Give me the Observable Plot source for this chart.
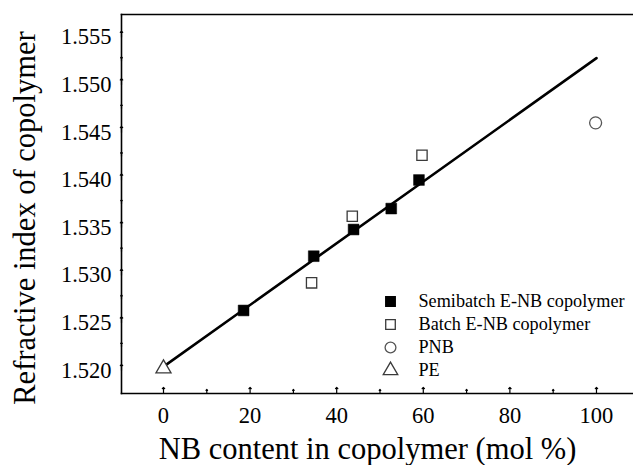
<!DOCTYPE html>
<html>
<head>
<meta charset="utf-8">
<script src="https://cdn.jsdelivr.net/npm/d3@7"></script>
<script src="https://cdn.jsdelivr.net/npm/@observablehq/plot@0.6"></script>
<style>
  html, body { margin: 0; padding: 0; background: #fff; }
  #wrap { position: relative; width: 633px; height: 465px; overflow: hidden; }
  #legend { position: absolute; left: 375px; top: 288px; }
  svg, svg text { font-family: "Liberation Serif", "Times New Roman", serif !important; }
</style>
</head>
<body>
<div id="wrap"><div id="chart"></div><div id="legend"></div></div>
<script>
// ---- data ----
const semiX = [18.5, 34.7, 43.9, 52.6, 59.0];
const semiY = [1.5263, 1.5320, 1.5348, 1.5370, 1.5400];
const batchX = [34.2, 43.6, 59.7];
const batchY = [1.5292, 1.5362, 1.5426];
const pnbX = [99.8];
const pnbY = [1.5460];
const peX = [0];
const peY = [1.5202];
const fitX = [0, 100];
const fitY = [1.5204, 1.5528];

const xTicks = [0, 20, 40, 60, 80, 100];
const xMinor = [10, 30, 50, 70, 90];
const yTicks = [1.520, 1.525, 1.530, 1.535, 1.540, 1.545, 1.550, 1.555];
const yMinor = [1.5225, 1.5275, 1.5325, 1.5375, 1.5425, 1.5475, 1.5525];
const xDomain = [-9.7, 108.55];
const yDomain = [1.51758, 1.55738];

const seriesNames = ["Semibatch E-NB copolymer", "Batch E-NB copolymer", "PNB", "PE"];
const xTitle = "NB content in copolymer (mol %)";
const yTitle = "Refractive index of copolymer";

const font = "Liberation Serif";
const ink = "#000";
const openInk = "#3a3a3a";

const toRows = (xs, ys) => xs.map((x, i) => ({x, y: ys[i]}));
const semi = toRows(semiX, semiY);
const batch = toRows(batchX, batchY);
const pnb = toRows(pnbX, pnbY);
const pe = toRows(peX, peY);
const fit = toRows(fitX, fitY);

const chart = Plot.plot({
  width: 633,
  height: 465,
  marginLeft: 121,
  marginTop: 14,
  marginBottom: 72,
  marginRight: 0,
  style: {fontFamily: font, background: "#fff", color: ink},
  x: {domain: xDomain},
  y: {domain: yDomain},
  marks: [
    Plot.frame({anchor: "top", stroke: ink, strokeWidth: 1.6}),
    Plot.frame({anchor: "left", stroke: ink, strokeWidth: 1.6}),
    Plot.frame({anchor: "bottom", stroke: ink, strokeWidth: 1.6}),
    // inward ticks
    Plot.vectorY(xTicks, {x: d => d, y: yDomain[0], length: 6, anchor: "start", stroke: ink, strokeWidth: 1.2}),
    Plot.vectorY(xMinor, {x: d => d, y: yDomain[0], length: 4, anchor: "start", stroke: ink, strokeWidth: 1.2}),
    Plot.vectorX(yTicks, {y: d => d, x: xDomain[0], length: 6, anchor: "start", stroke: ink, strokeWidth: 1.2}),
    Plot.vectorX(yMinor, {y: d => d, x: xDomain[0], length: 4, anchor: "start", stroke: ink, strokeWidth: 1.2}),
    Plot.axisX(xTicks, {tickSize: 0, tickPadding: 14, fontSize: 22.5, fontFamily: font, label: null}),
    Plot.axisY(yTicks, {tickSize: 0, tickPadding: 10, fontSize: 22.5, fontFamily: font, label: null, tickFormat: d3.format(".3f")}),
    Plot.text([xTitle], {frameAnchor: "bottom", lineAnchor: "middle", dy: 55.5, dx: -10, fontSize: 30.5, fontFamily: font, fill: ink}),
    Plot.text([yTitle], {frameAnchor: "left", textAnchor: "middle", lineAnchor: "middle", rotate: -90, dx: -96, dy: 14, fontSize: 30.5, fontFamily: font, fill: ink}),
    // fit line
    Plot.line(fit, {x: "x", y: "y", stroke: ink, strokeWidth: 2.6}),
    // data
    Plot.dot(batch, {x: "x", y: "y", symbol: "square", r: 5.8, fill: "#fff", stroke: openInk, strokeWidth: 1.3}),
    Plot.dot(pnb, {x: "x", y: "y", symbol: "circle", r: 6, fill: "#fff", stroke: "#555", strokeWidth: 1.3}),
    Plot.dot(pe, {x: "x", y: "y", symbol: "triangle", r: 5.6, fill: "#fff", stroke: openInk, strokeWidth: 1.3}),
    Plot.dot(semi, {x: "x", y: "y", symbol: "square", r: 6.1, fill: ink, stroke: ink, strokeWidth: 0.5})
  ]
});
document.getElementById("chart").append(chart);

const legendRows = [
  {label: seriesNames[0], symbol: "square", fill: ink, stroke: ink},
  {label: seriesNames[1], symbol: "square", fill: "#fff", stroke: openInk},
  {label: seriesNames[2], symbol: "circle", fill: "#fff", stroke: "#555"},
  {label: seriesNames[3], symbol: "triangle", fill: "#fff", stroke: openInk}
];

const legend = Plot.plot({
  width: 258,
  height: 100,
  margin: 0,
  style: {fontFamily: font, background: "transparent", color: ink, overflow: "visible"},
  y: {type: "point", domain: seriesNames, range: [12, 82], padding: 0, axis: null},
  symbol: {type: "identity"},
  color: {type: "identity"},
  marks: [
    Plot.dot(legendRows, {y: "label", frameAnchor: "left", dx: 15, symbol: "symbol", fill: "fill", stroke: "stroke", r: 5.4, strokeWidth: 1.3}),
    Plot.text(legendRows, {y: "label", text: "label", frameAnchor: "left", dx: 43, textAnchor: "start", fontSize: 18.2, fontFamily: font, fill: ink})
  ]
});
document.getElementById("legend").append(legend);
</script>
</body>
</html>
